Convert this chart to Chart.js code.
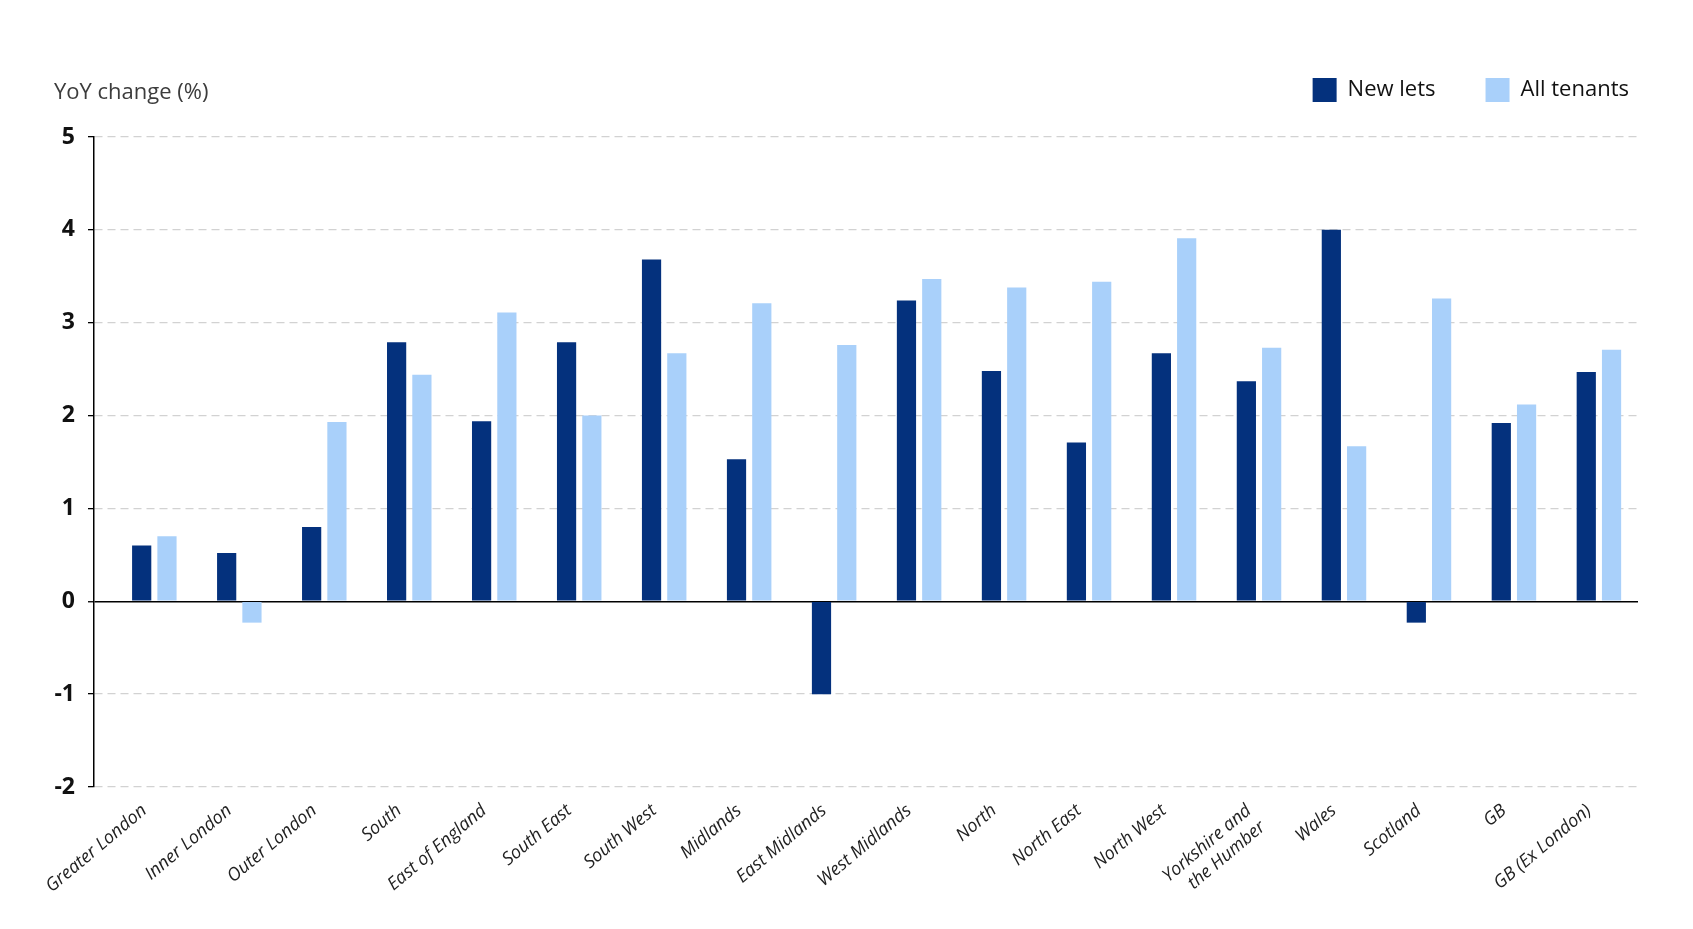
<!DOCTYPE html>
<html>
<head>
<meta charset="utf-8">
<title>YoY rent change by region</title>
<script src="https://cdn.jsdelivr.net/npm/chart.js@4.4.0/dist/chart.umd.min.js"></script>
<style>
  body { margin: 0; background: #fff; }
  #wrap { position: relative; width: 1693px; height: 929px; }
  #yTitle {
    position: absolute; left: 54px; top: 77px;
    font: 22px "Open Sans", sans-serif; line-height: 26px; color: #3c3c3c;
  }
</style>
</head>
<body>
<div id="wrap">
  <canvas id="rentChart"></canvas>
  <div id="yTitle">YoY change (%)</div>
</div>
<script>
// regions on the x axis
const regions = [
  'Greater London', 'Inner London', 'Outer London', 'South', 'East of England',
  'South East', 'South West', 'Midlands', 'East Midlands', 'West Midlands',
  'North', 'North East', 'North West', ['Yorkshire and', 'the Humber'], 'Wales',
  'Scotland', 'GB', 'GB (Ex London)'
];

// YoY change in %
const newLets    = [0.60, 0.52, 0.80, 2.79, 1.94, 2.79, 3.68, 1.53, -1.00, 3.24, 2.48, 1.71, 2.67, 2.37, 4.00, -0.23, 1.92, 2.47];
const allTenants = [0.70, -0.23, 1.93, 2.44, 3.11, 2.00, 2.67, 3.21, 2.76, 3.47, 3.38, 3.44, 3.91, 2.73, 1.67, 3.26, 2.12, 2.71];

const yTicks = [-2, -1, 0, 1, 2, 3, 4, 5];

const NAVY = '#04317d';
const SKY = '#a9d0fa';

Chart.defaults.font.family = '"Open Sans", sans-serif';
Chart.defaults.color = '#222';

const toPoints = arr => arr.map((v, i) => ({ x: i, y: v }));

new Chart(document.getElementById('rentChart'), {
  type: 'bar',
  data: {
    datasets: [
      { label: 'New lets', data: toPoints(newLets), backgroundColor: NAVY, borderWidth: 0, xAxisID: 'x', yAxisID: 'y' },
      { label: 'All tenants', data: toPoints(allTenants), backgroundColor: SKY, borderWidth: 0, xAxisID: 'x', yAxisID: 'y' }
    ]
  },
  options: {
    responsive: true,
    maintainAspectRatio: false,
    animation: false,
    layout: { padding: { top: 28, right: 14, left: 0, bottom: 0 } },
    datasets: { bar: { categoryPercentage: 0.595, barPercentage: 0.76 } },
    plugins: {
      tooltip: { enabled: false },
      legend: {
        position: 'top',
        align: 'end',
        labels: {
          boxWidth: 24,
          boxHeight: 24,
          padding: 50,
          color: '#111',
          font: { size: 22 }
        }
      }
    },
    scales: {
      x: {
        type: 'linear',
        position: 'bottom',
        offset: false,
        min: -0.71,
        max: 17.46,
        grid: { display: false, offset: false },
        border: { display: false },
        afterBuildTicks: s => { s.ticks = regions.map((_, i) => ({ value: i })); },
        afterFit: s => { s.height = 142; },
        ticks: {
          autoSkip: false,
          minRotation: 40,
          maxRotation: 40,
          padding: 5,
          labelOffset: -10,
          color: '#222',
          font: { size: 18, style: 'italic' },
          callback: v => regions[v]
        }
      },
      xTop: {
        type: 'linear',
        position: 'top',
        grid: { display: false },
        border: { display: false },
        ticks: { display: false },
        afterFit: s => { s.height = 25; }
      },
      y: {
        min: -2,
        max: 5,
        afterBuildTicks: s => { s.ticks = yTicks.map(v => ({ value: v })); },
        afterFit: s => { s.width = 94; },
        border: {
          display: true,
          color: '#000',
          width: 1.5,
          dash: ctx => (ctx.tick && ctx.tick.value === 0 ? [] : [8, 5])
        },
        grid: {
          color: ctx => (ctx.tick && ctx.tick.value === 0 ? '#000' : '#d2d2d2'),
          lineWidth: ctx => (ctx.tick && ctx.tick.value === 0 ? 1.5 : 1.3),
          tickColor: '#000',
          tickLength: 6,
          tickWidth: 1.3
        },
        ticks: {
          padding: 13,
          color: '#111',
          font: { size: 23, weight: 'bold' }
        }
      },
      yRight: {
        type: 'linear',
        position: 'right',
        grid: { display: false },
        border: { display: false },
        ticks: { display: false },
        afterFit: s => { s.width = 41; }
      }
    }
  }
});
</script>
</body>
</html>
